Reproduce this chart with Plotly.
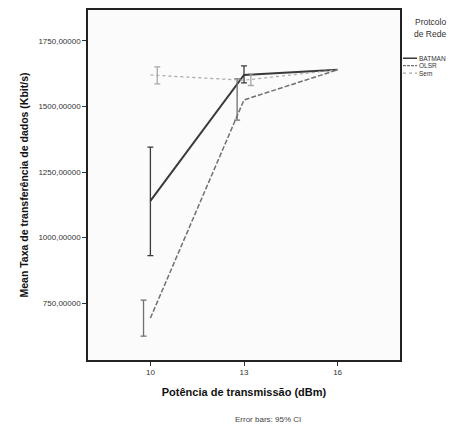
import plotly.graph_objects as go

# ---- data ----
potencia = [10, 13, 16]
protocolos = ["BATMAN", "OLSR", "Sem"]
batman_mean = [1140, 1620, 1640]
batman_lo = [931, 1590, 1640]
batman_hi = [1345, 1655, 1640]
olsr_mean = [693, 1525, 1640]
olsr_lo = [624, 1448, 1640]
olsr_hi = [761, 1605, 1640]
sem_mean = [1620, 1600, 1640]
sem_lo = [1586, 1580, 1640]
sem_hi = [1651, 1625, 1640]
y_ticks = [750, 1000, 1250, 1500, 1750]
y_ticklabels = ["750,00000", "1000,00000", "1250,00000", "1500,00000", "1750,00000"]
x_ticks = [10, 13, 16]

FONT = "Arial, Liberation Sans, sans-serif"
# plot area in pixels
L, R, T, B = 88, 400, 8, 360
W, H = 458, 431

styles = {
    "BATMAN": dict(color="#3a3a3a", width=2, dash="solid", off=0.0),
    "OLSR": dict(color="#707070", width=1.5, dash="5px,2px", off=-0.22),
    "Sem": dict(color="#a8a8a8", width=1.2, dash="dot", off=0.22),
}
series = {
    "BATMAN": (batman_mean, batman_lo, batman_hi),
    "OLSR": (olsr_mean, olsr_lo, olsr_hi),
    "Sem": (sem_mean, sem_lo, sem_hi),
}

fig = go.Figure()
for name in protocolos:
    m, lo, hi = series[name]
    st = styles[name]
    fig.add_trace(go.Scatter(
        x=potencia, y=m, mode="lines", name=name, showlegend=False,
        line=dict(color=st["color"], width=st["width"], dash=st["dash"]),
    ))
    idx = [i for i in range(len(m)) if hi[i] > lo[i]]
    fig.add_trace(go.Scatter(
        x=[potencia[i] + st["off"] for i in idx],
        y=[(hi[i] + lo[i]) / 2 for i in idx],
        mode="markers", marker=dict(size=1, color="rgba(0,0,0,0)"),
        showlegend=False, hoverinfo="skip",
        error_y=dict(type="data", symmetric=False,
                     array=[hi[i] - (hi[i] + lo[i]) / 2 for i in idx],
                     arrayminus=[(hi[i] + lo[i]) / 2 - lo[i] for i in idx],
                     color=st["color"], thickness=1.3, width=3),
    ))

def px(x):
    return (x - L) / (R - L)

def py(y):
    return (B - y) / (B - T)

shapes = []
annotations = []
# manual legend
for txt, yy in (("Protcolo", 20), ("de Rede", 32)):
    annotations.append(dict(text=txt, x=px(430), y=py(yy), xref="paper", yref="paper",
                            xanchor="center", yanchor="middle", showarrow=False, borderpad=0,
                            font=dict(family=FONT, size=8.5, color="#333")))
for i, name in enumerate(protocolos):
    yy = 56.5 + 7.5 * i
    shapes.append(dict(type="line", xref="paper", yref="paper", x0=px(403), x1=px(417), y0=py(yy), y1=py(yy),
                       line=dict(color=styles[name]["color"], width=1.5 if name == "BATMAN" else 1.2,
                                 dash="solid" if name == "BATMAN" else ("3px,1px" if name == "OLSR" else "dot"))))
    annotations.append(dict(text=name, x=px(418), y=py(yy), xref="paper", yref="paper", xanchor="left",
                            yanchor="middle", showarrow=False, borderpad=0,
                            font=dict(family=FONT, size=6.5, color="#333")))
annotations.append(dict(text="Error bars: 95% CI", x=px(268), y=py(420), xref="paper", yref="paper",
                        xanchor="center", yanchor="middle",
                        showarrow=False, font=dict(family=FONT, size=8, color="#444")))

fig.update_layout(
    width=W, height=H,
    margin=dict(l=L, r=W - R, t=T, b=H - B),
    paper_bgcolor="white", plot_bgcolor="#fbfbfb",
    font=dict(family=FONT, size=8, color="#333"),
    shapes=shapes, annotations=annotations,
    xaxis=dict(range=[8, 18], tickvals=x_ticks, ticks="outside", ticklen=4, tickcolor="#333",
               showline=True, linecolor="#222", linewidth=1.5, mirror=True, showgrid=False, zeroline=False,
               tickfont=dict(size=8),
               title=dict(text="<b>Potência de transmissão (dBm)</b>", font=dict(size=11, color="#111"), standoff=12)),
    yaxis=dict(range=[533, 1868], tickvals=y_ticks, ticktext=y_ticklabels, ticks="outside", ticklen=4,
               tickcolor="#333", showline=True, linecolor="#222", linewidth=1.5, mirror=True, showgrid=False,
               zeroline=False, tickfont=dict(size=8),
               title=dict(text="<b>Mean Taxa de transferência de dados (Kbit/s)</b>",
                          font=dict(size=10.5, color="#111"), standoff=8)),
)

fig.write_html("out.html")
